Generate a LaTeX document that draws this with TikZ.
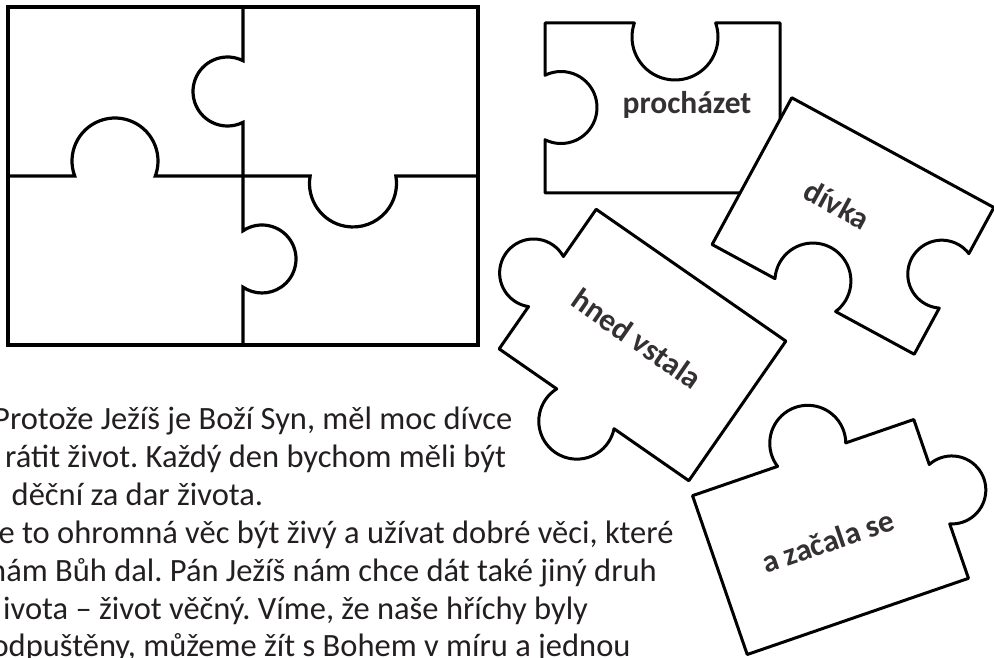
\documentclass[tikz,border=0pt]{standalone}
\usepackage{fontspec}
\setmainfont{Carlito}
\definecolor{ink}{RGB}{35,31,32}
\tikzset{
  piece/.style={draw=black, line width=3pt, fill=white, line join=round},
  board/.style={draw=black, line width=3.2pt, line join=miter},
  word/.style={font=\bfseries\fontsize{31.5}{33}\selectfont, text=ink!92, inner sep=0pt},
  body/.style={font=\fontsize{32.5}{38}\selectfont, text=ink, inner sep=0pt, anchor=base west},
}
\begin{document}
\frenchspacing
\begin{tikzpicture}[x=1pt,y=1pt]
\useasboundingbox (0,0) rectangle (994,657);

% ---------- assembled puzzle (left) ----------
\draw[board] (8,650) rectangle (478,312);
% vertical divider with two knobs
\draw[board] (243,650) -- (243,596.3)
  arc[start angle=63.3, end angle=296.7, radius=34.5]
  -- (243,426.2)
  arc[start angle=124, end angle=-124, radius=34]
  -- (243,312);
% horizontal divider with two knobs
\draw[board] (8,481) -- (74.7,481)
  arc[start angle=200.4, end angle=-20.4, radius=43]
  -- (310.15,481)
  arc[start angle=170.1, end angle=369.9, radius=43.5]
  -- (478,481);

% ---------- text ----------
\node[body] (t1) at (-7,227) {Protože Ježíš je Boží Syn, měl moc dívce};
\node[body] (t2) at (5,189.2) {rátit život. Každý den bychom měli být};
\node[body] (t3) at (11.5,151.4) {děční za dar života.};
\node[body] (t4) at (-1.6,113.6) {e to ohromná věc být živý a užívat dobré věci, které};
\node[body] (t5) at (-11,75.8) {nám Bůh dal. Pán Ježíš nám chce dát také jiný druh};
\node[body] (t6) at (3,38) {ivota – život věčný. Víme, že naše hříchy byly};
\node[body] (t7) at (-8.6,0.2) {odpuštěny, můžeme žít s Bohem v míru a jednou};

% ---------- piece: procházet ----------
\draw[piece] (545,634) -- (634.34,634)
  arc[start angle=161, end angle=379, radius=43]
  -- (780,634) -- (780,464) -- (545,464) -- (545,517.25)
  arc[start angle=243.6, end angle=476.4, radius=36] -- cycle;
\node[word] (w1) at (687,552) {procházet};

% ---------- piece: dívka ----------
\begin{scope}[shift={(853,431)}, rotate=-28.5]
  \draw[piece] (-115,83.5) -- (115,83.5) -- (115,31)
    arc[start angle=65.7, end angle=294.3, radius=34]
    -- (115,-83.5) -- (25.5,-83.5)
    arc[start angle=335.1, end angle=564.9, radius=38]
    -- (-115,-83.5) -- cycle;
  \node[word, rotate=-28.5] (w2) at (-24,11) {dívka};
\end{scope}

% ---------- piece: hned vstala ----------
\begin{scope}[shift={(642.5,312)}, rotate=-34.8]
  \draw[piece] (-115.5,85) -- (115.5,85) -- (115.5,-85) -- (24.4,-85)
    arc[start angle=383.3, end angle=156.7, radius=38]
    -- (-115.5,-85) -- (-115.5,-33.5)
    arc[start angle=296.2, end angle=63.8, radius=34] -- cycle;
  \node[word, rotate=-34.8] (w3) at (-8,2) {hned vstala};
\end{scope}

% ---------- piece: a začala se ----------
\begin{scope}[shift={(830.5,120)}, rotate=19]
  \draw[piece] (-117,84) -- (-27.06,84)
    arc[start angle=198.4, end angle=-18.4, radius=38]
    -- (117,84) -- (117,36.4)
    arc[start angle=112.5, end angle=-112.5, radius=34]
    -- (117,-84) -- (-117,-84) -- cycle;
  \node[word, rotate=19] (w4) at (-4,-3) {a začala se};
\end{scope}
\end{tikzpicture}
\end{document}
